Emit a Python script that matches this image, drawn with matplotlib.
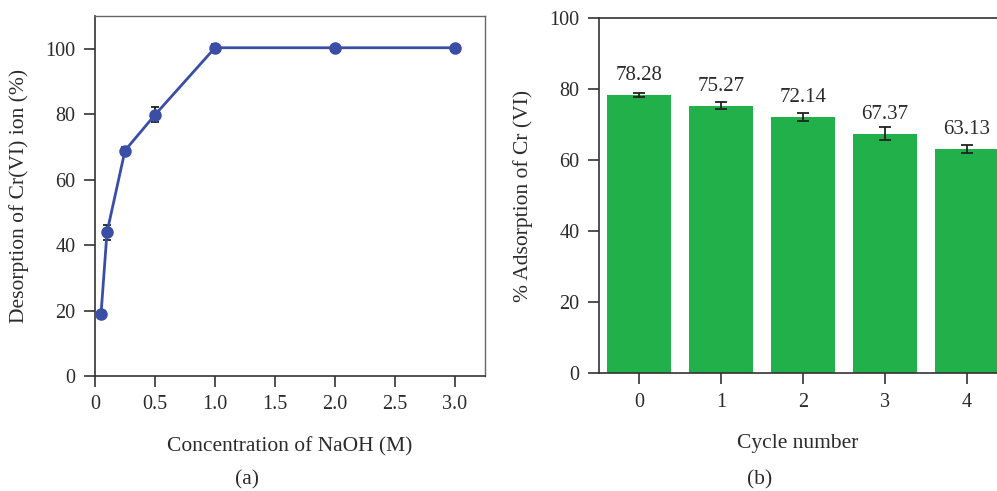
import matplotlib
matplotlib.use("Agg")
import matplotlib.pyplot as plt
import numpy as np

plt.rcParams['font.family'] = ['Liberation Serif', 'DejaVu Serif']

# Panel (a)
naoh_conc = [0.05, 0.1, 0.25, 0.5, 1.0, 2.0, 3.0]
desorption = [18.8, 43.9, 68.9, 79.8, 100.3, 100.3, 100.3]
desorption_err = [0.8, 2.2, 1.0, 2.3, 1.0, 0.5, 0.5]
xticks_a = [0, 0.5, 1.0, 1.5, 2.0, 2.5, 3.0]
xticklabels_a = ['0', '0.5', '1.0', '1.5', '2.0', '2.5', '3.0']
yticks_a = [0, 20, 40, 60, 80, 100]

# Panel (b)
cycles = [0, 1, 2, 3, 4]
adsorption = [78.28, 75.27, 72.14, 67.37, 63.13]
adsorption_err = [0.5, 0.9, 1.1, 1.9, 1.1]
yticks_b = [0, 20, 40, 60, 80, 100]

txt = '#2b2b2b'
fig = plt.figure(figsize=(9.97, 4.91), dpi=100)

ax1 = fig.add_axes([95/997, 1-376/491, (485-95)/997, (376-16)/491])
ax1.errorbar(naoh_conc, desorption, yerr=desorption_err, fmt='none', ecolor='#111111',
             elinewidth=1.2, capsize=3, capthick=1.2, zorder=2)
ax1.plot(naoh_conc, desorption, '-', color='#3a4ea6', lw=2, zorder=3)
ax1.plot(naoh_conc, desorption, 'o', color='#3a4ea6', ms=8, zorder=4)
ax1.set_xlim(0, 3.25)
ax1.set_ylim(0, 110)
ax1.set_xticks(xticks_a)
ax1.set_xticklabels(xticklabels_a)
ax1.set_yticks(yticks_a)
for s in ['top', 'right']:
    ax1.spines[s].set_color('#666666')
    ax1.spines[s].set_linewidth(1.0)
for s in ['left', 'bottom']:
    ax1.spines[s].set_color('#333333')
    ax1.spines[s].set_linewidth(1.2)
ax1.tick_params(axis='both', direction='out', length=8, width=1.2, color='#333333',
                labelsize=14.5, labelcolor=txt, pad=6)
ax1.set_xlabel('Concentration of NaOH (M)', fontsize=15.5, color=txt, labelpad=16)
ax1.set_ylabel('Desorption of Cr(VI) ion (%)', fontsize=15.5, color=txt, labelpad=12)
fig.text(247/997, 1-480/491, '(a)', ha='center', va='center', fontsize=15.5, color=txt)

ax2 = fig.add_axes([599/997, 1-373.3/491, (997-599)/997, (373.3-17.7)/491])
ax2.bar(cycles, adsorption, width=0.78, color='#22b04b', zorder=2)
ax2.errorbar(cycles, adsorption, yerr=adsorption_err, fmt='none', ecolor='#222222',
             elinewidth=1.3, capsize=4, capthick=1.3, zorder=3)
for c, v in zip(cycles, adsorption):
    ax2.annotate(f'{v:.2f}', (c, v), xytext=(0, 7), textcoords='offset points',
                 ha='center', va='bottom', fontsize=15, color=txt)
ax2.set_xlim(-0.49, 4.37)
ax2.set_ylim(0, 100)
ax2.set_xticks(cycles)
ax2.set_yticks(yticks_b)
ax2.spines['right'].set_visible(False)
for s in ['top', 'left', 'bottom']:
    ax2.spines[s].set_color('#333333')
    ax2.spines[s].set_linewidth(1.2)
ax2.tick_params(axis='both', direction='out', length=8, width=1.2, color='#333333',
                labelsize=14.5, labelcolor=txt, pad=6)
ax2.set_xlabel('Cycle number', fontsize=15.5, color=txt, labelpad=16)
ax2.set_ylabel('% Adsorption of Cr (VI)', fontsize=15.5, color=txt, labelpad=12)
fig.text(760/997, 1-480/491, '(b)', ha='center', va='center', fontsize=15.5, color=txt)

fig.savefig('out.png', dpi=100)
